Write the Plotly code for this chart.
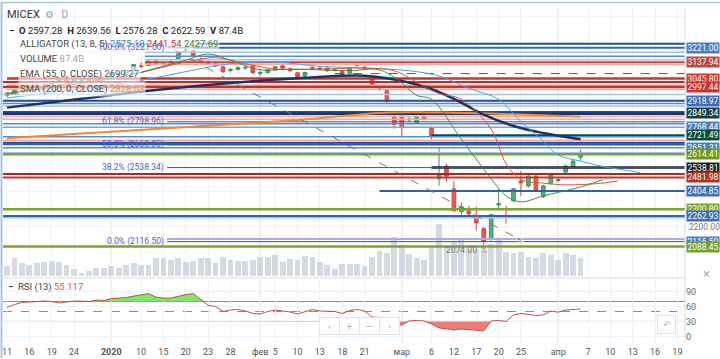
import plotly.graph_objects as go

# ---------------- data ----------------
opens = [2950, 2962, 2982, 2992, 3005, 3012, 3008, 3025, 3040, 3030,
         3036, 3045, 3035, 3042, 3050, 3072, 3068, 3098, 3118, 3120,
         3145, 3130, 3130, 3158, 3205, 3205, 3155, 3138, 3130, 3113,
         3092, 3098, 3106, 3119, 3075, 3079, 3096, 3118, 3100, 3079,
         3060, 3104, 3105, 3105, 3092, 3085, 3075, 3122, 3110, 3051,
         2992, 2977, 2830, 2830, 2810, 2796, 2830, 2762, 2474, 2547,
         2417, 2287, 2292, 2264, 2190, 2134, 2326, 2262, 2349, 2462,
         2434, 2490, 2372, 2450, 2465, 2513, 2541, 2597.28]
highs = [2968, 2985, 3000, 3010, 3020, 3025, 3030, 3045, 3048, 3042,
         3050, 3052, 3048, 3050, 3080, 3085, 3100, 3130, 3138, 3150,
         3152, 3140, 3150, 3190, 3221, 3210, 3165, 3150, 3145, 3118,
         3105, 3115, 3118, 3125, 3090, 3100, 3118, 3122, 3110, 3085,
         3085, 3115, 3115, 3110, 3105, 3092, 3108, 3135, 3120, 3060,
         3005, 2985, 2850, 2840, 2830, 2835, 2840, 2775, 2655, 2560,
         2460, 2340, 2320, 2315, 2200, 2275, 2417, 2320, 2420, 2519,
         2500, 2495, 2440, 2510, 2478, 2555, 2590, 2639.56]
lows = [2940, 2955, 2975, 2985, 2998, 3000, 3002, 3018, 3025, 3020,
        3030, 3030, 3028, 3035, 3045, 3055, 3060, 3095, 3105, 3115,
        3125, 3115, 3125, 3150, 3195, 3170, 3130, 3120, 3110, 3075,
        3080, 3090, 3095, 3070, 3060, 3075, 3090, 3100, 3085, 3050,
        3055, 3098, 3095, 3085, 3085, 3065, 3070, 3110, 3095, 3005,
        2975, 2905, 2760, 2711, 2795, 2785, 2810, 2700, 2435, 2460,
        2290, 2270, 2260, 2180, 2074, 2120, 2304, 2219, 2340, 2377,
        2425, 2400, 2365, 2440, 2455, 2505, 2535, 2576.28]
closes = [2962, 2980, 2990, 3005, 3010, 3006, 3025, 3040, 3030, 3036,
          3045, 3035, 3042, 3046, 3075, 3065, 3095, 3125, 3114, 3145,
          3130, 3127, 3142, 3186, 3210, 3176, 3136, 3133, 3118, 3085,
          3097, 3108, 3109, 3079, 3080, 3096, 3113, 3105, 3090, 3057,
          3080, 3108, 3100, 3090, 3095, 3070, 3102, 3125, 3106, 3011,
          2997, 2915, 2785, 2768, 2815, 2825, 2813, 2717, 2496, 2490,
          2292, 2315, 2275, 2224, 2117, 2270, 2332, 2255, 2417, 2451,
          2490, 2405, 2434, 2500, 2470, 2547, 2575, 2622.59]
volumes_b = [46, 83, 64, 55, 60, 69, 71, 69, 53, 32,
             17, 23, 37, 37, 46, 37, 55, 62, 51, 55,
             83, 83, 74, 83, 69, 71, 86, 86, 64, 92,
             78, 71, 71, 74, 90, 92, 97, 69, 80, 74,
             95, 92, 69, 53, 35, 58, 58, 58, 49, 92,
             120, 108, 184, 147, 106, 87, 78, 138, 244, 138,
             161, 179, 129, 129, 138, 152, 170, 115, 110, 115,
             92, 83, 110, 97, 78, 110, 101, 87.4]
rsi_values = [58, 64, 68, 69, 70, 71, 70, 67, 69, 71,
              71, 70, 73, 72, 76, 77, 78, 81, 83, 86,
              79, 77, 77, 81, 84, 86, 74, 62, 60, 50,
              53, 54, 51, 46, 45, 50, 53, 51, 49, 45,
              50, 54, 51, 51, 50, 46, 52, 54, 51, 39,
              38, 29, 23, 23, 31, 32, 31, 25, 17, 15,
              12.6, 15, 14, 13, 11, 31, 32, 30, 43, 46,
              44, 42, 43, 51, 48.6, 53, 54, 55.117]

# trading-day index of each date tick (future part counted in calendar days)
tick_idx = [0, 3, 6, 9, 14, 18, 21, 24, 27, 30, 34, 36, 39, 42, 45, 48,
            53, 57, 60, 63, 66, 69, 74, 78, 81, 84, 87, 90]
tick_text = ["11", "16", "19", "24", "<b>2020</b>", "10", "15", "20", "23", "28",
             "фев", "5", "10", "13", "18", "21", "мар", "6", "12", "17", "20",
             "25", "апр", "7", "10", "13", "16", "19"]
month_idx = [14, 34, 53, 74]

# indicator curves
ema_idx = [0, 10, 20, 30, 40, 48, 52, 56, 60, 64, 68, 72, 77]
ema_val = [2880, 2930, 2980, 3020, 3050, 3062, 3040, 3000, 2930, 2840, 2775, 2735, 2699.27]
sma_idx = [0, 10, 20, 30, 40, 44, 50, 58, 66, 72, 77]
sma_val = [2706, 2732, 2758, 2785, 2813, 2828, 2850, 2852, 2845, 2836, 2828.03]
jaw_idx = [0, 6, 12, 18, 24, 30, 36, 42, 48, 54, 58, 62, 66, 69, 72, 74, 77, 80, 85]
jaw_val = [2935, 2965, 3000, 3035, 3085, 3130, 3140, 3115, 3105, 3090, 3060, 2990, 2927,
           2800, 2690, 2610, 2575.10, 2545, 2510]
teeth_idx = [0, 6, 12, 18, 24, 28, 32, 36, 42, 48, 52, 56, 58, 61, 65, 67, 69, 72, 75, 77, 80, 82]
teeth_val = [2955, 2995, 3030, 3080, 3140, 3165, 3130, 3100, 3100, 3105, 3090, 3000, 2960,
             2927, 2757, 2560, 2470, 2450, 2440, 2441.54, 2450, 2462]
lips_idx = [0, 4, 8, 12, 16, 20, 24, 27, 30, 34, 38, 42, 46, 50, 53, 55, 57, 61, 65, 67,
            69, 72, 76, 77, 80]
lips_val = [2962, 2985, 3015, 3035, 3060, 3105, 3150, 3185, 3150, 3095, 3100, 3095, 3090,
            3095, 3020, 2950, 2927, 2700, 2475, 2377, 2343, 2377, 2417, 2427.69, 2470]

# drawn horizontal levels
level_price = [3243.7, 3221.0, 3195.5, 3172.9, 3153.0, 3137.94, 3127.6, 3045.8, 3026.6,
               3007.5, 2997.44, 2983.0, 2955.0, 2918.97, 2903.9, 2889.7, 2855.7, 2844.4,
               2830.3, 2813.3, 2788.0, 2768.44, 2721.49, 2714.0, 2694.0, 2680.0, 2671.7,
               2651.31, 2623.5, 2614.41, 2538.81, 2501.8, 2481.98, 2404.85, 2300.8,
               2262.93, 2252.6, 2130.9, 2088.45]
level_color = ["#1e4f9c", "#4f7fc0", "#a8c3e6", "#5d8bcb", "#a8c3e6", "#d0443a", "#f2aaa3",
               "#d32f2f", "#c62828", "#f2aaa3", "#c8302a", "#f2aaa3", "#a8c3e6", "#1e4f9c",
               "#5d8bcb", "#a8c3e6", "#1e4f9c", "#1b3566", "#f2aaa3", "#f2aaa3", "#5d8bcb",
               "#7fa3d6", "#0d4d40", "#5d8bcb", "#f2aaa3", "#1e4f9c", "#2c5aa8", "#5d8bcb",
               "#a8c3e6", "#7ea32e", "#1a2530", "#a52a2a", "#c0392b", "#2f62b0", "#7ea32e",
               "#2f62b0", "#a8c3e6", "#a9aee0", "#7ea32e"]
level_width = [2, 2, 1.5, 1.5, 1.5, 2, 1.5, 2.5, 2, 1.5, 2.5, 1.5, 1.5, 2, 1.5, 1.5, 2, 2.5,
               1.5, 1.5, 1.5, 1.5, 2.5, 1.5, 1.5, 2, 2, 1.5, 1.5, 2.5, 2.5, 2, 2, 2, 2.5,
               2, 1.5, 2, 2.5]
level_start = [25.5, 25, 18.5, 18.5, 18.5, 18.5, 18.5, 0, -1, 0, -1, 0, -1, -1, -1, -1, -1,
               -1, -1, -1, -1, -1, 57, -1, -1, -1, -1, -1, -1, -1, 57, -1, -1, 50, -1, -1,
               -1, 21.5, -1]
dash_price = 3073.8
dash_start = 44

fib_text = ["100.0% (3221.00)", "61.8% (2798.96)", "50.0% (2668.05)", "38.2% (2538.34)",
            "0.0% (2116.50)"]
fib_price = [3221.00, 2798.96, 2668.05, 2538.34, 2116.50]
fib_start = 21.5

label_text = ["3045.80", "2768.44", "2651.31", "2300.80", "2116.50",
              "3221.00", "3137.94", "2997.44", "2918.97", "2849.34", "2721.49",
              "2614.41", "2538.81", "2481.98", "2404.85", "2262.93", "2088.45"]
label_price = [3045.80, 2768.44, 2651.31, 2300.80, 2116.50,
               3221.00, 3137.94, 2997.44, 2918.97, 2849.34, 2721.49,
               2614.41, 2538.81, 2481.98, 2404.85, 2262.93, 2088.45]
label_color = ["#d03a2f", "#4f7fc0", "#4f7fc0", "#7ea32e", "#4f7fc0",
               "#4a7dbf", "#c0453c", "#cc2f2f", "#3d6db5", "#103f45", "#0e4a3c",
               "#6a9a1e", "#17202a", "#a93226", "#3d6db5", "#3d6db5", "#77a12b"]

trend_idx = [22.4, 69.3]
trend_price = [3210, 2116.5]
low_idx = 64
low_price = 2074.00

# ---------------- geometry ----------------
W, H = 720, 359
PL, PR, PT, PB = 2, 685, 8, 345
MAIN_BOT, RSI_TOP = 278, 282
X0, X1 = -0.536, 91.02
P_LO, P_HI = 1918.5, 3447.5
VOL_TOP = 1244
R_LO, R_HI = -13.4, 112.6


def ax(px):
    return (px - PL) / (PR - PL)


def ay(py):
    return (PB - py) / (PB - PT)


n = len(closes)
idx = list(range(n))
fig = go.Figure()

# volume (base axis, drawn first)
fig.add_trace(go.Bar(x=idx, y=volumes_b, marker_color="rgba(196,205,216,0.75)",
                     marker_line_width=0, width=0.78, xaxis="x", yaxis="y",
                     hoverinfo="skip", showlegend=False))

# horizontal levels
for p, c, w, s in zip(level_price, level_color, level_width, level_start):
    fig.add_trace(go.Scatter(x=[max(s, X0 - 1), X1 + 1], y=[p, p], mode="lines",
                             line=dict(color=c, width=w), xaxis="x", yaxis="y3",
                             hoverinfo="skip", showlegend=False))
fig.add_trace(go.Scatter(x=[dash_start, X1 + 1], y=[dash_price, dash_price], mode="lines",
                         line=dict(color="#555", width=1, dash="dash"), xaxis="x",
                         yaxis="y3", hoverinfo="skip", showlegend=False))
for fp in fib_price:
    fig.add_trace(go.Scatter(x=[fib_start, X1 + 1], y=[fp, fp], mode="lines",
                             line=dict(color="#3a48c6", width=1), xaxis="x", yaxis="y3",
                             hoverinfo="skip", showlegend=False))

# moving averages
fig.add_trace(go.Scatter(x=sma_idx, y=sma_val, mode="lines", line=dict(color="#f08a2c", width=2),
                         line_shape="spline", xaxis="x", yaxis="y3", showlegend=False))
fig.add_trace(go.Scatter(x=ema_idx, y=ema_val, mode="lines", line=dict(color="#1c3560", width=2.5),
                         line_shape="spline", xaxis="x", yaxis="y3", showlegend=False))
# alligator
fig.add_trace(go.Scatter(x=jaw_idx, y=jaw_val, mode="lines", line=dict(color="#42a5f5", width=1),
                         line_shape="spline", xaxis="x", yaxis="y3", showlegend=False))
fig.add_trace(go.Scatter(x=teeth_idx, y=teeth_val, mode="lines", line=dict(color="#e0523f", width=1),
                         line_shape="spline", xaxis="x", yaxis="y3", showlegend=False))
fig.add_trace(go.Scatter(x=lips_idx, y=lips_val, mode="lines", line=dict(color="#3d8f45", width=1),
                         line_shape="spline", xaxis="x", yaxis="y3", showlegend=False))

# candles
fig.add_trace(go.Candlestick(x=idx, open=opens, high=highs, low=lows, close=closes,
                             increasing=dict(line=dict(color="#3f8f5f", width=1), fillcolor="#5fae7c"),
                             decreasing=dict(line=dict(color="#d9453b", width=1), fillcolor="#ef5a4f"),
                             whiskerwidth=0, xaxis="x", yaxis="y3", showlegend=False))

# dashed trend line with arrow
fig.add_trace(go.Scatter(x=trend_idx, y=trend_price, mode="lines+markers",
                         line=dict(color="#777", width=1, dash="dash"),
                         marker=dict(symbol=["circle", "arrow"], size=[0, 7], angleref="previous",
                                     color="#777"),
                         xaxis="x", yaxis="y3", hoverinfo="skip", showlegend=False))

# RSI pane
up = [max(v, 70) for v in rsi_values]
dn = [min(v, 30) for v in rsi_values]
fig.add_trace(go.Scatter(x=idx, y=[70] * n, mode="lines", line=dict(width=0), xaxis="x2",
                         yaxis="y2", hoverinfo="skip", showlegend=False))
fig.add_trace(go.Scatter(x=idx, y=up, mode="lines", line=dict(width=0), fill="tonexty",
                         fillcolor="rgba(110,228,90,0.9)", xaxis="x2", yaxis="y2",
                         hoverinfo="skip", showlegend=False))
fig.add_trace(go.Scatter(x=idx, y=[30] * n, mode="lines", line=dict(width=0), xaxis="x2",
                         yaxis="y2", hoverinfo="skip", showlegend=False))
fig.add_trace(go.Scatter(x=idx, y=dn, mode="lines", line=dict(width=0), fill="tonexty",
                         fillcolor="rgba(240,110,110,0.9)", xaxis="x2", yaxis="y2",
                         hoverinfo="skip", showlegend=False))
fig.add_trace(go.Scatter(x=idx, y=rsi_values, mode="lines", line=dict(color="#c0504d", width=1),
                         xaxis="x2", yaxis="y2", showlegend=False))

shapes = []
for lv, ds in [(70, "solid"), (50, "dash"), (30, "solid")]:
    shapes.append(dict(type="line", xref="paper", yref="y2", x0=0, x1=1, y0=lv, y1=lv,
                       line=dict(color="#8a8a8a", width=1, dash=ds), layer="below"))
for m in month_idx:
    shapes.append(dict(type="line", xref="x", yref="y domain", x0=m, x1=m, y0=0, y1=1,
                       line=dict(color="#c8c8c8", width=1), layer="below"))
    shapes.append(dict(type="line", xref="x2", yref="y2 domain", x0=m, x1=m, y0=0, y1=1,
                       line=dict(color="#c8c8c8", width=1), layer="below"))
# pane borders / frame
shapes.append(dict(type="line", xref="paper", yref="paper", x0=0, x1=1, y0=ay(MAIN_BOT + 1.5),
                   y1=ay(MAIN_BOT + 1.5), line=dict(color="#d5dbe3", width=1)))
shapes.append(dict(type="line", xref="paper", yref="paper", x0=ax(PL - 1.5), x1=ax(PL - 1.5),
                   y0=ay(360), y1=ay(2), line=dict(color="#a9c4e6", width=2)))
shapes.append(dict(type="line", xref="paper", yref="paper", x0=ax(0), x1=ax(720), y0=ay(2.5),
                   y1=ay(2.5), line=dict(color="#a9c4e6", width=1.5)))
shapes.append(dict(type="line", xref="paper", yref="paper", x0=1, x1=1, y0=0, y1=1,
                   line=dict(color="#d5dbe3", width=1)))

ann = []
font = "Roboto, Liberation Sans, Arial"
# header
ann.append(dict(text="MICEX", x=ax(4), y=ay(15), xref="paper", yref="paper", xanchor="left",
                yanchor="middle", showarrow=False, font=dict(size=11, color="#333", family=font)))
ann.append(dict(text="⚙   D", x=ax(42), y=ay(15), xref="paper", yref="paper", xanchor="left",
                yanchor="middle", showarrow=False, font=dict(size=10, color="#999", family=font)))
ann.append(dict(text="<b>−</b>  <b>O</b> 2597.28  <b>H</b> 2639.56  <b>L</b> 2576.28  <b>C</b> 2622.59  <b>V</b> 87.4B",
                x=ax(6), y=ay(31), xref="paper", yref="paper", xanchor="left", yanchor="middle",
                showarrow=False, font=dict(size=9.5, color="#222", family=font)))
rows = [
    ("ALLIGATOR (13, 8, 5) <span style='color:#2f86d8'>2575.10</span> "
     "<span style='color:#c9342c'>2441.54</span> <span style='color:#3b7d3f'>2427.69</span>", 44),
    ("VOLUME <span style='color:#9aa8bb'>87.4B</span>", 59),
    ("EMA (55, 0, CLOSE) <span style='color:#3d5a80'>2699.27</span>", 74),
    ("SMA (200, 0, CLOSE) <span style='color:#e6892e'>2828.03</span>", 89),
]
for txt, py in rows:
    ann.append(dict(text=txt, x=ax(17), y=ay(py), xref="paper", yref="paper", xanchor="left",
                    yanchor="middle", showarrow=False, bgcolor="rgba(255,255,255,0.6)",
                    borderpad=1, font=dict(size=9.5, color="#444", family=font)))
# fib labels
for t, fp in zip(fib_text, fib_price):
    ann.append(dict(text=t, x=fib_start, y=fp, xref="x", yref="y3", xanchor="right",
                    yanchor="middle", showarrow=False, xshift=-1,
                    font=dict(size=8.5, color="#5257cf", family=font)))
# low marker
ann.append(dict(text="2074.00 →", x=low_idx + 0.9, y=low_price, xref="x", yref="y3",
                xanchor="right", yanchor="middle", yshift=-1, showarrow=False,
                font=dict(size=8.5, color="#777", family=font)))
# price labels
for t, p, c in zip(label_text, label_price, label_color):
    ann.append(dict(text=t, x=1, y=p, xref="paper", yref="y3", xanchor="left", yanchor="middle",
                    xshift=1, showarrow=False, bgcolor=c, width=32, height=10, borderpad=0,
                    font=dict(size=8.5, color="white", family=font)))
ann.append(dict(text="2200.00", x=1, y=2200, xref="paper", yref="y3", xanchor="left",
                yanchor="middle", xshift=2, showarrow=False,
                font=dict(size=8.5, color="#777", family=font)))
# RSI legend
ann.append(dict(text="<b>−</b>  RSI (13) <span style='color:#d9534f'>55.117</span>", x=ax(5),
                y=ay(289), xref="paper", yref="paper", xanchor="left", yanchor="middle",
                showarrow=False, font=dict(size=9.5, color="#444", family=font)))
# UI buttons
for txt, px in [("‹", 329), ("+", 349), ("—", 369), ("›", 389)]:
    ann.append(dict(text=txt, x=ax(px), y=ay(337), xref="paper", yref="paper", showarrow=False,
                    bgcolor="white", bordercolor="#e2e2e2", borderwidth=1, width=17, height=14,
                    font=dict(size=10, color="#bbb", family=font)))
ann.append(dict(text="↶", x=ax(676), y=ay(336), xref="paper", yref="paper", showarrow=False,
                bgcolor="white", bordercolor="#e2e2e2", borderwidth=1, width=15, height=15,
                font=dict(size=10, color="#bbb", family=font)))
ann.append(dict(text="×", x=ax(712), y=ay(285), xref="paper", yref="paper", showarrow=False,
                font=dict(size=13, color="#aaa", family=font)))

main_dom = [ay(MAIN_BOT), 1]
rsi_dom = [0, ay(RSI_TOP)]

fig.update_layout(
    width=W, height=H, margin=dict(l=PL, r=W - PR, t=PT, b=H - PB),
    paper_bgcolor="white", plot_bgcolor="white", showlegend=False, bargap=0,
    font=dict(family=font),
    xaxis=dict(domain=[0, 1], range=[X0, X1], anchor="y", showticklabels=False,
               tickvals=tick_idx, showgrid=True, gridcolor="#eef1f5", zeroline=False,
               rangeslider=dict(visible=False), fixedrange=True),
    xaxis2=dict(domain=[0, 1], range=[X0, X1], anchor="y2", matches="x", tickvals=tick_idx,
                ticktext=tick_text, showgrid=True, gridcolor="#eef1f5", zeroline=False,
                tickfont=dict(size=9, color="#555"), ticks="", ticklabelstandoff=2),
    yaxis=dict(domain=main_dom, range=[0, VOL_TOP], visible=False, showgrid=False),
    yaxis3=dict(overlaying="y", anchor="x", range=[P_LO, P_HI], side="right",
                showticklabels=False, showgrid=True, gridcolor="#f1f3f6",
                tickvals=[2200, 2400, 2600, 2800, 3000, 3200, 3400], zeroline=False),
    yaxis2=dict(domain=rsi_dom, range=[R_LO, R_HI], side="right", anchor="x2",
                tickvals=[0, 30, 60, 90], showgrid=True, gridcolor="#eef1f5", zeroline=False,
                tickfont=dict(size=9, color="#666"), ticks=""),
    shapes=shapes, annotations=ann,
)

fig.write_html("out.html", config={"displayModeBar": False},
               post_script="document.body.style.margin='0px';document.body.style.overflow='hidden';")
